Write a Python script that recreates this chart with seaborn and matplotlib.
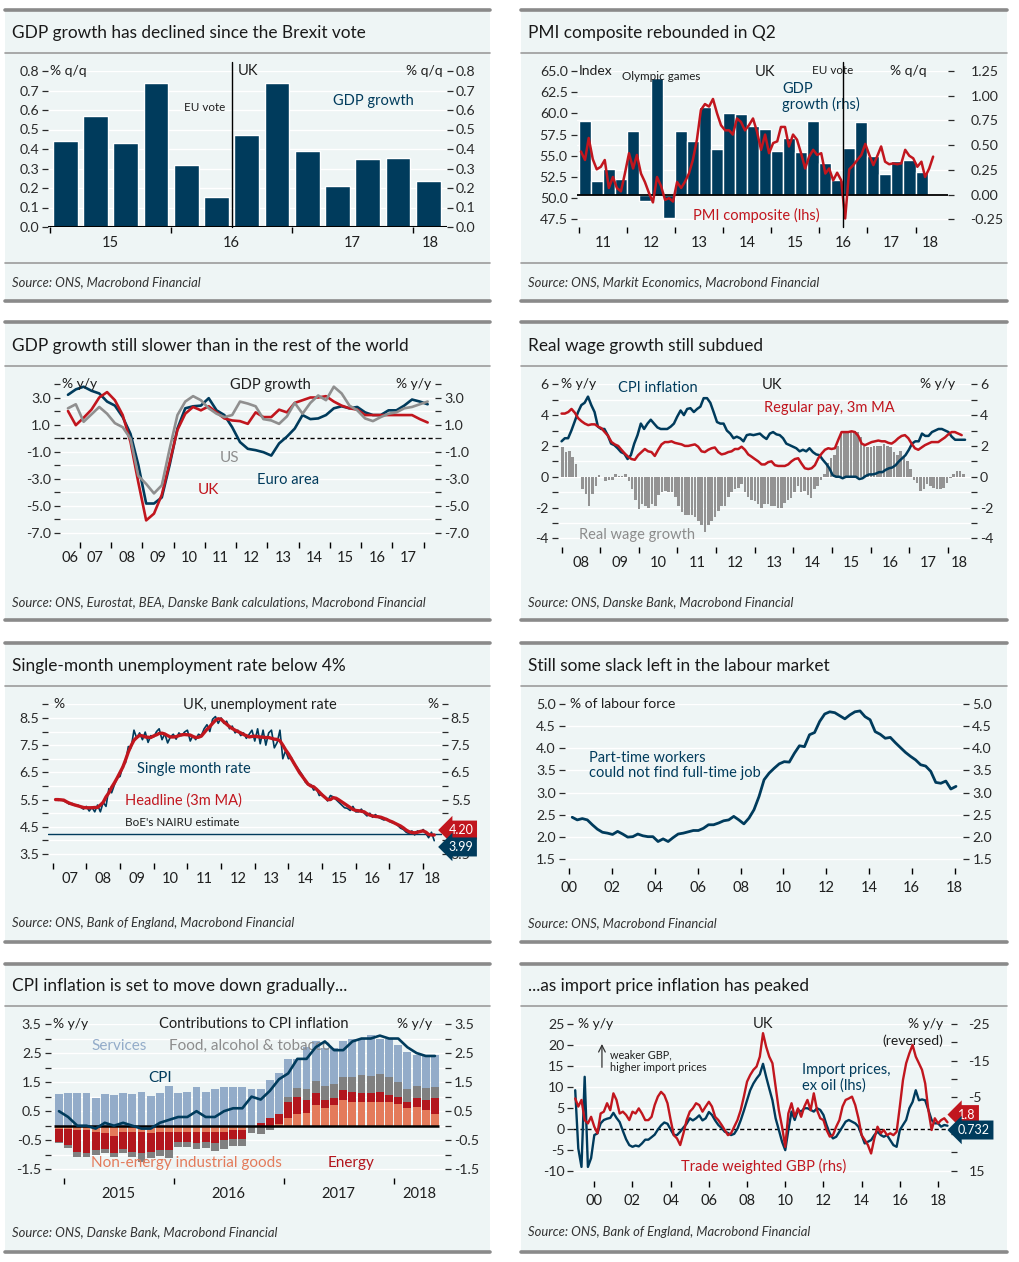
import numpy as np
import pandas as pd
import matplotlib
matplotlib.use('Agg')
import matplotlib.pyplot as plt
import seaborn as sns
from matplotlib.lines import Line2D
from matplotlib.patches import Rectangle
from matplotlib.ticker import FixedLocator, FixedFormatter, FuncFormatter, NullFormatter

# ---------------------------------------------------------------- data
# 1. UK GDP growth, % q/q, 2015Q1 - 2018Q1
gdp_recent_q = ['2015Q1', '2015Q2', '2015Q3', '2015Q4', '2016Q1', '2016Q2', '2016Q3',
                '2016Q4', '2017Q1', '2017Q2', '2017Q3', '2017Q4', '2018Q1']
gdp_recent = [0.44, 0.57, 0.43, 0.74, 0.32, 0.155, 0.47, 0.74, 0.39, 0.21, 0.35, 0.355, 0.235]

# 2. GDP growth (rhs, quarterly 2011Q1-2018Q1) and PMI composite (lhs, monthly from Jan 2011)
gdp_q = [0.74, 0.14, 0.26, 0.16, 0.64, -0.06, 1.18, -0.24, 0.64, 0.54, 0.89, 0.46,
         0.83, 0.82, 0.69, 0.66, 0.44, 0.57, 0.43, 0.74, 0.32, 0.15, 0.47, 0.73,
         0.39, 0.21, 0.34, 0.35, 0.23]
pmi = [55.5, 54.5, 57.1, 54.6, 53.4, 53.7, 54.5, 51.2, 52.5, 51.2, 50.8, 52.9,
       55.3, 53.5, 55.1, 52.9, 51.9, 50.6, 49.5, 52.5, 51.4, 49.8, 50.0, 49.6,
       51.9, 51.2, 51.9, 52.9, 54.5, 56.9, 60.4, 61.1, 60.8, 61.7, 60.0, 58.6,
       58.0, 58.0, 57.5, 59.4, 59.0, 58.0, 58.6, 59.4, 57.8, 55.7, 57.5, 55.3,
       56.5, 56.7, 58.4, 58.4, 56.1, 57.5, 56.9, 55.3, 53.5, 54.9, 55.7, 55.1,
       55.3, 52.9, 53.5, 52.1, 53.0, 52.1, 47.6, 53.4, 53.9, 54.5, 55.1, 56.4,
       55.1, 53.9, 54.9, 56.1, 54.3, 54.0, 54.1, 54.0, 54.1, 55.7, 55.0, 54.7,
       53.7, 54.3, 52.5, 53.5, 54.9]

# 3. GDP growth % y/y, quarterly 2006Q3 - 2018Q1
gdp_ea = [3.2, 3.6, 3.8, 3.5, 3.3, 2.7, 2.4, 1.55, 0.3, -2.0, -4.85, -4.85, -4.4, -2.0, 0.7,
          2.2, 2.35, 2.4, 2.95, 2.05, 1.7, 0.8, -0.3, -0.8, -0.9, -1.05, -1.3, -0.4, 0.1,
          0.7, 1.7, 1.4, 1.45, 1.7, 2.2, 2.35, 2.2, 2.3, 1.9, 1.7, 1.7, 2.05, 2.05, 2.4,
          2.85, 2.7, 2.5]
gdp_uk = [2.0, 0.95, 1.5, 2.1, 3.0, 3.4, 2.8, 1.7, -0.3, -3.3, -6.1, -5.6, -4.2, -1.8, 0.6,
          1.8, 2.3, 2.05, 2.35, 1.9, 1.45, 1.3, 1.25, 1.05, 1.9, 1.55, 1.55, 2.1, 1.9,
          2.6, 2.8, 3.0, 3.0, 3.1, 2.7, 2.4, 2.2, 2.1, 1.7, 1.7, 1.7, 1.7, 1.7, 1.7,
          1.7, 1.4, 1.15]
gdp_us = [2.2, 2.5, 1.2, 1.75, 2.3, 1.8, 1.1, 0.8, -0.05, -2.8, -3.4, -4.1, -3.5, -0.8, 1.7,
          2.7, 3.1, 2.8, 2.2, 1.8, 1.55, 1.7, 2.7, 2.55, 2.35, 1.4, 1.3, 1.05, 1.6,
          2.6, 1.8, 2.6, 3.15, 2.8, 3.8, 3.3, 2.4, 2.05, 1.45, 1.25, 1.55, 1.8, 1.9, 2.2,
          2.3, 2.5, 2.7]

# 4. CPI inflation, regular pay (3m MA) and real wage growth, % y/y, Jan 2008 - spring 2018
cpi_infl = [2.3, 2.5, 2.5, 3.0, 3.6, 4.2, 4.65, 4.8, 5.2, 4.65, 4.2, 3.25, 3.1, 3.1, 2.7,
            2.15, 2.05, 1.85, 1.6, 1.5, 1.15, 1.4, 2.15, 2.7, 3.45, 3.1, 3.45, 3.7, 3.45,
            3.2, 3.1, 3.1, 3.1, 3.25, 3.45, 3.9, 4.3, 4.0, 4.4, 4.45, 4.2, 4.4, 4.55, 5.1,
            5.1, 4.8, 4.2, 3.55, 3.45, 3.45, 3.0, 2.8, 2.5, 2.6, 2.5, 2.3, 2.7, 2.75, 2.7,
            2.75, 2.8, 2.6, 2.45, 2.8, 2.9, 2.75, 2.7, 2.5, 2.15, 2.05, 1.95, 1.85, 1.65,
            1.75, 1.65, 1.85, 1.6, 1.45, 1.4, 1.1, 0.85, 0.55, 0.1, 0.0, 0.0, -0.1, 0.0,
            0.0, 0.0, 0.0, -0.15, -0.1, 0.05, 0.15, 0.15, 0.2, 0.3, 0.3, 0.45, 0.55, 0.6,
            0.75, 1.0, 1.2, 1.4, 1.75, 2.15, 2.3, 2.3, 2.8, 2.65, 2.65, 2.9, 3.0, 3.1, 3.1,
            3.0, 2.9, 2.6, 2.4, 2.4, 2.4, 2.4]
reg_pay = [4.1, 4.1, 4.2, 4.4, 4.15, 3.8, 3.6, 3.45, 3.35, 3.4, 3.4, 3.25, 3.15, 2.9, 2.65,
           2.25, 2.1, 2.0, 1.75, 1.5, 1.3, 1.15, 1.1, 1.4, 1.6, 1.8, 1.65, 1.6, 1.35, 1.75,
           2.1, 2.25, 2.25, 2.3, 2.2, 2.15, 2.1, 2.0, 2.0, 2.05, 2.1, 1.95, 1.65, 1.6, 1.75,
           1.85, 1.9, 1.6, 1.45, 1.5, 1.6, 1.65, 1.8, 1.8, 1.95, 1.75, 1.45, 1.3, 1.15, 1.0,
           0.8, 0.8, 0.95, 1.0, 0.75, 0.7, 0.7, 0.7, 0.8, 1.0, 1.15, 1.2, 0.85, 0.55, 0.5,
           0.55, 0.75, 1.2, 1.5, 1.75, 1.85, 1.8, 1.85, 2.4, 2.9, 2.9, 2.9, 2.95, 2.9, 2.65,
           2.15, 2.05, 2.15, 2.25, 2.3, 2.35, 2.3, 2.3, 2.2, 2.15, 2.3, 2.5, 2.65, 2.7, 2.5,
           2.15, 1.85, 1.75, 1.9, 2.05, 2.15, 2.25, 2.25, 2.25, 2.4, 2.55, 2.75, 2.9, 2.9,
           2.8, 2.7]
real_wage = [1.9, 1.6, 1.7, 1.3, 0.8, 0.0, -0.8, -1.1, -1.9, -1.1, -0.6, 0.1, 0.0, -0.3, -0.2,
             -0.2, 0.2, 0.05, 0.05, 0.2, -0.3, -0.8, -1.5, -2.1, -1.8, -1.9, -2.0, -1.8, -1.9,
             -1.2, -1.0, -0.9, -1.0, -1.0, -1.3, -1.9, -2.3, -2.5, -2.5, -2.5, -2.6, -2.9,
             -3.1, -3.6, -3.1, -2.9, -2.6, -2.2, -1.9, -1.9, -1.3, -1.0, -0.8, -0.7, -0.5,
             -1.0, -1.3, -1.5, -1.6, -1.8, -2.0, -1.8, -1.8, -1.9, -1.9, -2.0, -2.0, -1.7,
             -1.5, -1.4, -1.0, -0.6, -1.0, -0.9, -1.2, -1.4, -0.8, -0.6, -0.2, 0.2, 0.9, 1.2,
             1.4, 2.0, 2.8, 2.9, 3.0, 3.0, 3.0, 2.9, 2.6, 2.0, 1.9, 1.9, 2.0, 2.0, 2.0, 2.1,
             2.0, 1.9, 1.6, 1.4, 1.7, 1.3, 1.0, 0.5, -0.2, -0.4, -0.9, -0.8, -0.5, -0.6, -0.7,
             -0.8, -0.8, -0.7, -0.4, -0.1, 0.2, 0.4, 0.4, 0.2]

# 5. Unemployment rate, %, monthly Jan 2007 - Apr 2018
unemp_3m = [5.50, 5.50, 5.49, 5.48, 5.42, 5.37, 5.33, 5.30, 5.27, 5.24, 5.21, 5.20,
            5.20, 5.20, 5.21, 5.21, 5.30, 5.40, 5.60, 5.75, 5.95, 6.12, 6.30, 6.50,
            6.70, 6.95, 7.25, 7.48, 7.68, 7.78, 7.86, 7.84, 7.80, 7.79, 7.78, 7.84,
            7.88, 7.93, 7.94, 7.91, 7.85, 7.80, 7.80, 7.81, 7.85, 7.88, 7.89, 7.88,
            7.87, 7.82, 7.78, 7.79, 7.83, 7.95, 8.08, 8.18, 8.30, 8.41, 8.47, 8.45,
            8.35, 8.27, 8.18, 8.11, 8.05, 8.00, 7.95, 7.89, 7.85, 7.80, 7.82, 7.83,
            7.81, 7.80, 7.79, 7.78, 7.78, 7.75, 7.72, 7.71, 7.66, 7.50, 7.33, 7.18,
            7.00, 6.83, 6.65, 6.49, 6.35, 6.21, 6.07, 6.00, 5.97, 5.88, 5.78, 5.67,
            5.58, 5.50, 5.50, 5.57, 5.55, 5.49, 5.42, 5.35, 5.28, 5.21, 5.14, 5.10,
            5.09, 5.07, 5.05, 4.98, 4.93, 4.90, 4.88, 4.87, 4.85, 4.81, 4.77, 4.72,
            4.68, 4.63, 4.58, 4.53, 4.46, 4.38, 4.32, 4.29, 4.28, 4.30, 4.33, 4.35,
            4.30, 4.22, 4.20, 4.20]
unemp_single = [5.52, 5.47, 5.50, 5.45, 5.40, 5.33, 5.36, 5.28, 5.30, 5.22, 5.15, 5.25,
                5.08, 5.22, 5.05, 5.30, 5.05, 5.40, 5.25, 5.90, 5.75, 6.05, 6.30, 6.35,
                6.75, 6.85, 7.45, 7.40, 8.05, 7.75, 7.95, 7.70, 7.98, 7.60, 7.85, 7.80,
                8.00, 8.10, 7.70, 7.92, 7.58, 7.80, 7.90, 7.72, 7.95, 7.85, 7.98, 8.05,
                7.65, 7.85, 7.70, 7.90, 7.85, 8.10, 8.25, 8.00, 8.45, 8.55, 8.30, 8.50,
                8.30, 8.38, 8.10, 8.20, 7.95, 8.05, 7.85, 7.95, 7.75, 7.90, 8.05, 7.65,
                8.10, 7.55, 8.05, 7.50, 7.95, 8.05, 7.40, 7.60, 8.05, 7.00, 7.30, 7.00,
                7.05, 6.80, 6.70, 6.55, 6.40, 6.15, 6.05, 6.05, 5.85, 5.90, 5.65, 5.70,
                5.60, 5.45, 5.65, 5.60, 5.50, 5.40, 5.30, 5.20, 5.18, 5.10, 5.25, 5.05,
                5.05, 5.15, 5.00, 4.90, 5.00, 4.85, 4.95, 4.85, 4.80, 4.75, 4.80, 4.70,
                4.65, 4.65, 4.55, 4.45, 4.40, 4.30, 4.25, 4.35, 4.20, 4.35, 4.30, 4.40,
                4.25, 4.10, 4.30, 3.99]
nairu = 4.22

# 6. Part-time workers who could not find a full-time job, % of labour force, 2000 - 2018
part_time = [2.44, 2.38, 2.41, 2.38, 2.27, 2.17, 2.10, 2.08, 2.05, 2.12, 2.06, 1.99, 2.00,
             2.06, 2.02, 2.00, 2.00, 1.89, 1.95, 1.89, 1.98, 2.06, 2.08, 2.11, 2.14, 2.14,
             2.19, 2.27, 2.27, 2.31, 2.36, 2.38, 2.46, 2.38, 2.29, 2.42, 2.61, 2.91, 3.29,
             3.44, 3.55, 3.65, 3.70, 3.69, 3.89, 4.06, 4.04, 4.31, 4.36, 4.61, 4.78, 4.83,
             4.81, 4.74, 4.67, 4.76, 4.83, 4.85, 4.72, 4.65, 4.38, 4.32, 4.23, 4.25, 4.13,
             4.02, 3.91, 3.82, 3.74, 3.63, 3.60, 3.48, 3.23, 3.21, 3.26, 3.08, 3.14]

# 7. Contributions to CPI inflation, Dec 2014 - May 2018
contrib_months = pd.date_range('2014-12-01', periods=42, freq='MS')
neig = [-0.1, -0.1, -0.15, -0.15, -0.2, -0.25, -0.35, -0.2, -0.2, -0.2, -0.25, -0.2, -0.2,
        -0.2, -0.2, -0.2, -0.2, -0.2, -0.2, -0.15, -0.15, -0.05, -0.05, 0.0, 0.05, 0.25,
        0.4, 0.45, 0.7, 0.6, 0.7, 0.87, 0.8, 0.8, 0.8, 0.8, 0.8, 0.75, 0.6, 0.65, 0.55, 0.4]
energy = [-0.45, -0.55, -0.75, -0.8, -0.65, -0.55, -0.6, -0.6, -0.7, -0.75, -0.65, -0.65,
          -0.65, -0.35, -0.35, -0.4, -0.35, -0.4, -0.3, -0.3, -0.3, 0.0, 0.1, 0.25, 0.35,
          0.58, 0.6, 0.45, 0.43, 0.3, 0.24, 0.35, 0.37, 0.31, 0.31, 0.35, 0.25, 0.25, 0.2,
          0.29, 0.33, 0.57]
food = [-0.03, -0.13, -0.17, -0.12, -0.15, -0.15, -0.12, -0.15, -0.18, -0.3, -0.2, -0.2,
        -0.25, -0.17, -0.2, -0.2, -0.22, -0.27, -0.3, -0.25, -0.25, -0.2, -0.25, -0.15,
        -0.05, 0.17, 0.3, 0.38, 0.42, 0.46, 0.48, 0.44, 0.51, 0.63, 0.61, 0.63, 0.61, 0.51,
        0.46, 0.42, 0.42, 0.37]
services = [1.09, 1.13, 1.13, 1.13, 0.94, 1.08, 1.05, 1.13, 1.08, 1.17, 1.03, 1.13, 1.36,
            1.11, 1.17, 1.34, 1.17, 1.28, 1.34, 1.32, 1.34, 1.25, 1.15, 1.32, 1.4, 1.31,
            1.01, 1.43, 1.35, 1.3, 1.24, 1.26, 1.32, 1.26, 1.4, 1.22, 1.34, 1.26, 1.28,
            1.09, 1.15, 1.11]
cpi_headline = [0.5, 0.3, 0.0, 0.0, -0.1, 0.1, 0.0, 0.1, 0.0, -0.1, -0.1, 0.1, 0.2, 0.3, 0.3,
                0.5, 0.3, 0.3, 0.5, 0.6, 0.6, 1.0, 0.9, 1.2, 1.6, 1.8, 2.3, 2.3, 2.7, 2.9,
                2.6, 2.6, 2.9, 3.0, 3.0, 3.1, 3.0, 3.0, 2.7, 2.5, 2.4, 2.4]

# 8. Import prices ex oil (lhs) and trade weighted GBP (rhs, reversed), % y/y, every 2nd month from 1999
import_prices = [9.2, -4.7, -9.1, 12.4, -9.1, -7.0, -1.5, -1.1, 1.3, 2.1, 2.4, 2.6, 3.8, 2.6,
                 1.6, -0.5, -2.5, -3.9, -4.3, -4.0, -4.2, -3.5, -2.6, -2.6, -2.0, -1.4, -0.2,
                 0.8, 1.5, 1.2, -0.2, -1.5, -1.5, -0.7, 0.3, 1.2, 2.5, 2.0, 2.5, 3.2, 2.0, 2.5,
                 4.0, 3.3, 2.0, 0.9, 0.2, -0.7, -1.0, -1.5, -1.2, 0.0, 2.0, 4.3, 6.8, 9.2, 10.8,
                 12.0, 13.0, 15.5, 12.4, 9.6, 6.8, 2.5, -0.3, -3.1, -5.1, -0.3, 4.1, 2.1, 4.5,
                 4.1, 4.9, 4.9, 4.5, 4.1, 4.9, 4.5, 3.3, 0.9, -1.1, -2.3, -1.9, -0.7, 0.5, 1.7,
                 2.1, 1.7, 1.3, 0.5, -1.5, -3.5, -3.1, -2.7, -1.5, -0.7, -1.5, -1.9, -1.5, -2.7,
                 -3.9, -4.3, -0.3, 0.9, 2.1, 4.9, 6.4, 9.2, 6.8, 7.0, 6.8, 4.5, 2.1, 1.3, 1.3,
                 0.5, 0.9, 0.732]
gbp_twi = [-4.7, -2.5, -4.3, 1.2, 2.1, 0.3, 3.0, 4.8, -0.6, -1.1, -3.4, -1.5, -6.1, -4.3, -0.6,
           -1.1, -0.2, 1.2, -1.1, -0.6, -2.0, -0.6, 1.2, 1.2, 0.3, -2.9, -5.2, -6.5, -5.6,
           -3.4, 1.2, 5.3, 6.2, 8.0, 4.8, 1.2, -1.1, -2.0, -3.4, -2.9, -1.1, -2.5, -3.8,
           -2.5, 0.3, 1.2, 2.5, 3.9, 5.3, 4.8, 3.0, 1.2, -1.5, -5.2, -9.3, -11.1, -12.5,
           -13.4, -16.1, -22.5, -18.8, -16.1, -14.3, -7.9, -1.5, 3.0, 8.5, -0.6, -3.4, 0.3,
           -2.0, 0.3, -2.5, -4.3, -1.5, -6.1, -1.5, 0.7, 1.2, 3.9, 5.7, 5.3, 3.0, 1.2, -2.5,
           -4.3, -4.7, -5.2, -2.9, 0.7, 5.3, 6.6, 8.0, 10.3, 6.2, 3.0, 4.8, 3.9, 5.3, 4.8,
           5.3, 4.4, -2.5, -9.7, -14.3, -17.0, -19.3, -16.1, -14.3, -12.5, -8.8, -1.5, 3.9,
           0.7, 2.1, 1.2, 0.7, 1.8]

# ---------------------------------------------------------------- style
sns.set_theme(style='white')
plt.rcParams['font.family'] = ['Lato', 'DejaVu Sans']

NAVY = '#003b5c'
RED = '#c1161e'
LINE_GREY = '#8f8f8f'
BAR_GREY = '#939393'
BG = '#eef5f5'
SERV = '#93acc9'
FOOD = '#808080'
NEIG_C = '#e47b5b'
ENERGY_C = '#b3161d'
INK = '#1e1e1e'

TICK_FS = 10.2
XTICK_FS = 10.5
NOTE_FS = 10.5
UNIT_FS = 10
SMALL_FS = 8.4

W, H = 1020, 1262
fig = plt.figure(figsize=(W / 100, H / 100), dpi=100)
fig.patch.set_facecolor('white')


def frac(x0, y0, x1, y1):
    return [x0 / W, 1 - y1 / H, (x1 - x0) / W, (y1 - y0) / H]


def decimal_year(dates):
    dates = pd.DatetimeIndex(dates)
    return np.asarray(dates.year + (dates.dayofyear - 1) / 365.25)


def quarter_mid(quarters):
    p = pd.PeriodIndex(quarters, freq='Q')
    return np.asarray(p.year + (p.quarter - 0.5) / 4.0)


cols = [(5, 490), (521, 1007)]
rows = [(9.5, 33, 53, 282, 300.5), (321.5, 346, 366, 602, 619.5),
        (642.5, 666, 686, 923, 941.5), (963.5, 986, 1006, 1232, 1251.5)]


def panel_frame(col, row, title, source, lower_rule=False):
    x0, x1 = cols[col]
    top, ty, rule, sy, bottom = rows[row]
    fig.add_artist(Rectangle((x0 / W, 1 - bottom / H), (x1 - x0) / W, (bottom - top) / H,
                             transform=fig.transFigure, facecolor=BG, edgecolor='none', zorder=-2))
    for y, lw, c in [(top, 2.6, '#8a8a8a'), (bottom, 2.6, '#8a8a8a'), (rule, 1.2, '#9c9c9c')]:
        fig.add_artist(Line2D([x0 / W, x1 / W], [1 - y / H] * 2, transform=fig.transFigure,
                              color=c, lw=lw, zorder=-1))
    if lower_rule:
        fig.add_artist(Line2D([x0 / W, x1 / W], [1 - 263 / H] * 2, transform=fig.transFigure,
                              color='#9c9c9c', lw=1.2, zorder=-1))
    fig.text((x0 + 7) / W, 1 - ty / H, title, fontsize=12.4, color='#1a1a1a', va='center', ha='left')
    fig.text((x0 + 7) / W, 1 - sy / H, source, fontsize=9.4, style='italic', color='#333333',
             va='center', ha='left')


def setup_y(ax, lim, major, minor=(), fmt='{:.1f}', side='both', grid=True, pad=2):
    ax.set_ylim(*lim)
    ax.yaxis.set_major_locator(FixedLocator(major))
    ax.yaxis.set_minor_locator(FixedLocator(list(minor)))
    ax.yaxis.set_major_formatter(FuncFormatter(lambda v, p: fmt.format(v)))
    ax.yaxis.set_minor_formatter(NullFormatter())
    left = side in ('both', 'left')
    right = side in ('both', 'right')
    ax.tick_params(axis='y', which='both', direction='out', length=4.5, width=0.9,
                   colors='#2a2a2a', left=left, right=right, labelleft=left,
                   labelright=right, labelsize=TICK_FS, pad=pad)
    for s in ax.spines.values():
        s.set_visible(False)
    if grid:
        ax.grid(True, axis='y', which='both', color='white', lw=1.0)
    else:
        ax.grid(False)
    ax.grid(False, axis='x')


def setup_x(ax, lim, ticks, label_pos=None, labels=None):
    ax.set_xlim(*lim)
    ax.xaxis.set_major_locator(FixedLocator(ticks))
    if label_pos is None:
        ax.xaxis.set_major_formatter(FixedFormatter(labels))
        ax.xaxis.set_minor_locator(FixedLocator([]))
    else:
        ax.xaxis.set_major_formatter(NullFormatter())
        ax.xaxis.set_minor_locator(FixedLocator(label_pos))
        ax.xaxis.set_minor_formatter(FixedFormatter(labels))
    ax.tick_params(axis='x', which='major', direction='out', length=4.5, width=1.0,
                   color='black', bottom=True, labelsize=XTICK_FS, labelcolor=INK, pad=5)
    ax.tick_params(axis='x', which='minor', length=0, bottom=True, labelsize=XTICK_FS,
                   labelcolor=INK, pad=6.5)


def new_axes(box):
    ax = fig.add_axes(frac(*box))
    ax.set_facecolor(BG)
    ax.patch.set_alpha(0.0)
    return ax


def unit(ax, x, text, ha='left', y=1.0, size=UNIT_FS):
    ax.text(x, y, text, transform=ax.transAxes, ha=ha, va='center', fontsize=size,
            color=INK, clip_on=False)


def note(ax, x, y, text, color=INK, size=NOTE_FS, **kw):
    ax.text(x, y, text, fontsize=size, va='center', ha='left', color=color, clip_on=False, **kw)


def tag(ax, y, text, color):
    ax.annotate(text, xy=(1.0, y), xycoords=('axes fraction', 'data'), xytext=(5, 0),
                textcoords='offset points', ha='left', va='center', fontsize=9,
                color='white', bbox=dict(boxstyle='larrow,pad=0.28', fc=color, ec='none'),
                annotation_clip=False, zorder=10)


yy = lambda v: f'{v % 100:02d}'

# ---------------------------------------------------------------- 1. GDP since Brexit vote
panel_frame(0, 0, 'GDP growth has declined since the Brexit vote',
            'Source: ONS, Macrobond Financial', lower_rule=True)
ax = new_axes((48, 71, 447, 227))
setup_y(ax, (0, 0.8), np.arange(0, 0.81, 0.1))
setup_x(ax, (2014.983, 2018.28), [2015, 2016, 2017, 2018],
        [2015.5, 2016.5, 2017.5, 2018.14], ['15', '16', '17', '18'])
ax.bar(quarter_mid(gdp_recent_q), gdp_recent, width=0.205, color=NAVY, zorder=2)
ax.axhline(0, color='black', lw=2.2, zorder=3)
ax.axvline(2016.5, ymin=0, ymax=1.06, color='black', lw=1.0, clip_on=False, zorder=3)
unit(ax, 0.006, '% q/q')
unit(ax, 0.99, '% q/q', ha='right')
ax.text(2016.45, 0.615, 'EU vote', ha='right', va='center', fontsize=SMALL_FS, color=INK)
note(ax, 2016.55, 0.8, 'UK')
note(ax, 2017.34, 0.646, 'GDP growth', color=NAVY)

# ---------------------------------------------------------------- 2. PMI and GDP
panel_frame(1, 0, 'PMI composite rebounded in Q2',
            'Source: ONS, Markit Economics, Macrobond Financial', lower_rule=True)
axb = new_axes((576.7, 71, 947.7, 227.3))
axl = axb.twinx()
axl.patch.set_visible(False)
setup_y(axb, (-0.33, 1.25), np.arange(-0.25, 1.26, 0.25), fmt='{:.2f}', side='right', pad=12)
setup_y(axl, (46.56, 65.0), np.arange(47.5, 65.1, 2.5), side='left', grid=False)
setup_x(axb, (2010.95, 2018.67), list(range(2011, 2019)),
        [y + 0.5 for y in range(2011, 2018)] + [2018.3], [yy(y) for y in range(2011, 2019)])
axb.bar(quarter_mid(pd.period_range('2011Q1', periods=len(gdp_q), freq='Q').astype(str)),
        gdp_q, width=0.25, color=NAVY, zorder=2)
axb.axhline(0, color='black', lw=1.3, zorder=3)
pmi_dates = pd.date_range('2011-01-01', periods=len(pmi), freq='MS') + pd.Timedelta(days=14)
sns.lineplot(x=decimal_year(pmi_dates), y=pmi, ax=axl, color=RED, lw=1.8, zorder=4)
axl.axvline(2016.5, ymin=0, ymax=1.058, color='black', lw=1.0, clip_on=False, zorder=5)
unit(axl, 0.006, 'Index')
unit(axl, 0.944, '% q/q', ha='right')
note(axl, 2011.89, 64.4, 'Olympic games', size=SMALL_FS)
note(axl, 2014.66, 64.9, 'UK')
note(axl, 2015.84, 65.05, 'EU vote', size=SMALL_FS)
note(axl, 2015.22, 61.93, 'GDP\ngrowth (rhs)', color=NAVY, linespacing=1.05)
note(axl, 2013.37, 47.9, 'PMI composite (lhs)', color=RED)

# ---------------------------------------------------------------- 3. GDP vs rest of world
panel_frame(0, 1, 'GDP growth still slower than in the rest of the world',
            'Source: ONS, Eurostat, BEA, Danske Bank calculations, Macrobond Financial')
ax = new_axes((60, 384, 435, 542))
setup_y(ax, (-7.7, 4.0), [3, 1, -1, -3, -5, -7], [4, 2, 0, -2, -4, -6])
setup_x(ax, (2006.37, 2018.36), list(range(2007, 2019)),
        [2006.69] + [y + 0.5 for y in range(2007, 2018)], [yy(y) for y in range(2006, 2018)])
q3 = quarter_mid(pd.period_range('2006Q3', periods=len(gdp_uk), freq='Q').astype(str))
ax.axhline(0, color='black', lw=1.0, ls=(0, (3, 2)), zorder=1)
sns.lineplot(x=q3, y=gdp_ea, ax=ax, color=NAVY, lw=1.9, zorder=3)
sns.lineplot(x=q3, y=gdp_uk, ax=ax, color=RED, lw=1.9, zorder=3)
sns.lineplot(x=q3, y=gdp_us, ax=ax, color=LINE_GREY, lw=1.9, zorder=4)
unit(ax, 0.006, '% y/y')
unit(ax, 0.99, '% y/y', ha='right')
note(ax, 2011.81, 3.93, 'GDP growth')
note(ax, 2011.49, -1.47, 'US', color=LINE_GREY, size=11)
note(ax, 2012.67, -3.09, 'Euro area', color=NAVY)
note(ax, 2010.78, -3.83, 'UK', color=RED, size=11)

# ---------------------------------------------------------------- 4. Real wages
panel_frame(1, 1, 'Real wage growth still subdued', 'Source: ONS, Danske Bank, Macrobond Financial')
ax = new_axes((557.7, 384.3, 971, 547))
setup_y(ax, (-4.56, 6.0), [6, 4, 2, 0, -2, -4], [5, 3, 1, -1, -3], fmt='{:.0f}')
setup_x(ax, (2007.9, 2018.6), list(range(2008, 2019)),
        [y + 0.5 for y in range(2008, 2018)] + [2018.3], [yy(y) for y in range(2008, 2019)])
rw_x = decimal_year(pd.date_range('2008-01-12', '2018-05-30', periods=len(real_wage)))
ax.bar(rw_x, real_wage, width=0.066, color=BAR_GREY, zorder=2, linewidth=0)
sns.lineplot(x=decimal_year(pd.date_range('2008-01-01', '2018-06-13', periods=len(cpi_infl))),
             y=cpi_infl, ax=ax, color=NAVY, lw=1.8, zorder=3)
sns.lineplot(x=decimal_year(pd.date_range('2008-01-01', '2018-05-12', periods=len(reg_pay))),
             y=reg_pay, ax=ax, color=RED, lw=1.8, zorder=4)
unit(ax, 0.008, '% y/y')
unit(ax, 0.961, '% y/y', ha='right')
note(ax, 2009.46, 5.76, 'CPI inflation', color=NAVY)
note(ax, 2013.19, 5.95, 'UK')
note(ax, 2013.24, 4.46, 'Regular pay, 3m MA', color=RED)
note(ax, 2008.45, -3.79, 'Real wage growth', color='#8c8c8c')

# ---------------------------------------------------------------- 5. Unemployment
panel_frame(0, 2, 'Single-month unemployment rate below 4%',
            'Source: ONS, Bank of England, Macrobond Financial')
ax = new_axes((48.3, 704.3, 441.7, 863.3))
setup_y(ax, (3.16, 9.0), [8.5, 7.5, 6.5, 5.5, 4.5, 3.5], [9.0, 8.0, 7.0, 6.0, 5.0, 4.0])
setup_x(ax, (2006.87, 2018.55), list(range(2007, 2019)),
        [y + 0.5 for y in range(2007, 2018)] + [2018.28], [yy(y) for y in range(2007, 2019)])
u_x = decimal_year(pd.date_range('2007-01-08', periods=len(unemp_3m), freq='MS'))
ax.axhline(nairu, color=NAVY, lw=1.0, zorder=1)
sns.lineplot(x=u_x, y=unemp_single, ax=ax, color=NAVY, lw=1.2, zorder=3)
sns.lineplot(x=u_x, y=unemp_3m, ax=ax, color=RED, lw=2.4, zorder=4)
unit(ax, 0.012, '%')
unit(ax, 0.993, '%', ha='right')
note(ax, 2010.87, 8.97, 'UK, unemployment rate')
note(ax, 2009.5, 6.63, 'Single month rate', color=NAVY)
note(ax, 2009.15, 5.46, 'Headline (3m MA)', color=RED)
note(ax, 2009.15, 4.66, "BoE's NAIRU estimate", size=SMALL_FS)
tag(ax, 4.38, f'{unemp_3m[-1]:.2f}', RED)
tag(ax, 3.76, f'{unemp_single[-1]:.2f}', NAVY)

# ---------------------------------------------------------------- 6. Part-time slack
panel_frame(1, 2, 'Still some slack left in the labour market', 'Source: ONS, Macrobond Financial')
ax = new_axes((565, 704.3, 963.3, 868))
setup_y(ax, (1.29, 5.0), np.arange(1.5, 5.01, 0.5))
setup_x(ax, (1999.8, 2018.41), list(range(2000, 2019, 2)), None,
        [yy(y) for y in range(2000, 2019, 2)])
pt_x = decimal_year(pd.date_range('2000-02-20', '2018-01-26', periods=len(part_time)))
sns.lineplot(x=pt_x, y=part_time, ax=ax, color=NAVY, lw=2.0, zorder=3)
unit(ax, 0.012, '% of labour force')
note(ax, 2000.92, 3.62, 'Part-time workers\ncould not find full-time job', color=NAVY,
     linespacing=1.1)

# ---------------------------------------------------------------- 7. CPI contributions
panel_frame(0, 3, 'CPI inflation is set to move down gradually...',
            'Source: ONS, Danske Bank, Macrobond Financial')
ax = new_axes((50.7, 1024, 445, 1178.3))
setup_y(ax, (-1.81, 3.5), [3.5, 2.5, 1.5, 0.5, -0.5, -1.5], [3.0, 2.0, 1.0, 0.0, -1.0])
setup_x(ax, (-0.9, 42.1), [0.5, 12.5, 24.5, 36.5], [6.5, 18.5, 30.5, 39.3],
        ['2015', '2016', '2017', '2018'])
pos = np.arange(len(contrib_months))
contrib = pd.DataFrame({'neig': neig, 'energy': energy, 'food': food, 'services': services},
                       index=contrib_months)
up = np.zeros(len(pos))
down = np.zeros(len(pos))
for name, color in [('neig', NEIG_C), ('energy', ENERGY_C), ('food', FOOD), ('services', SERV)]:
    vals = contrib[name].to_numpy()
    base = np.where(vals >= 0, up, down)
    ax.bar(pos, vals, bottom=base, width=0.86, color=color, zorder=2, linewidth=0)
    up = up + np.clip(vals, 0, None)
    down = down + np.clip(vals, None, 0)
ax.hlines(0, pos[0] - 0.5, pos[-1] + 0.5, color='black', lw=1.8, zorder=3)
sns.lineplot(x=pos, y=cpi_headline, ax=ax, color=NAVY, lw=1.9, zorder=4)
unit(ax, 0.006, '% y/y')
unit(ax, 0.967, '% y/y', ha='right')
note(ax, 10.91, 3.5, 'Contributions to CPI inflation')
note(ax, 3.6, 2.74, 'Services', color=SERV, size=11)
note(ax, 12.0, 2.74, 'Food, alcohol & tobacco', color='#8c8c8c', size=11)
note(ax, 9.7, 1.64, 'CPI', color=NAVY, size=11)
note(ax, 3.5, -1.28, 'Non-energy industrial goods', color=NEIG_C, size=11)
note(ax, 29.3, -1.28, 'Energy', color=ENERGY_C, size=11)

# ---------------------------------------------------------------- 8. Import prices
panel_frame(1, 3, '...as import price inflation has peaked',
            'Source: ONS, Bank of England, Macrobond Financial')
ax = new_axes((573.3, 1024, 951, 1181))
ax2 = ax.twinx()
ax2.patch.set_visible(False)
setup_y(ax, (-12.46, 25), list(range(25, -11, -5)), fmt='{:.0f}', side='left')
setup_y(ax2, (17.8, -25), [-25, -15, -5, 5, 15], [-20, -10, 0, 10], fmt='{:.0f}',
        side='right', grid=False, pad=8)
setup_x(ax, (1998.9, 2018.68), list(range(2000, 2019, 2)), None,
        [yy(y) for y in range(2000, 2019, 2)])
ip_x = decimal_year(pd.date_range('1999-01-01', periods=len(import_prices), freq='2MS'))
ax.axhline(0, color='black', lw=1.0, ls=(0, (3, 2)), zorder=1)
sns.lineplot(x=ip_x, y=import_prices, ax=ax, color=NAVY, lw=1.7, zorder=3)
sns.lineplot(x=ip_x, y=gbp_twi, ax=ax2, color=RED, lw=1.7, zorder=4)
unit(ax, 0.012, '% y/y')
unit(ax, 0.979, '% y/y', ha='right')
unit(ax, 0.979, '(reversed)', ha='right', y=0.895)
note(ax, 2008.31, 25, 'UK')
ax.annotate('', xy=(2000.4, 20.9), xytext=(2000.4, 14.0),
            arrowprops=dict(arrowstyle='->', color='#333333', lw=0.9))
note(ax, 2000.82, 16.1, 'weaker GBP,\nhigher import prices', size=7.8, linespacing=1.2)
note(ax, 2010.9, 12.2, 'Import prices,\nex oil (lhs)', color=NAVY, linespacing=1.1)
note(ax, 2004.53, -8.9, 'Trade weighted GBP (rhs)', color=RED)
tag(ax2, -0.3, f'{gbp_twi[-1]:.1f}', RED)
tag(ax2, 3.9, f'{import_prices[-1]:.3f}', NAVY)

fig.savefig('out.png', dpi=100, facecolor='white')
